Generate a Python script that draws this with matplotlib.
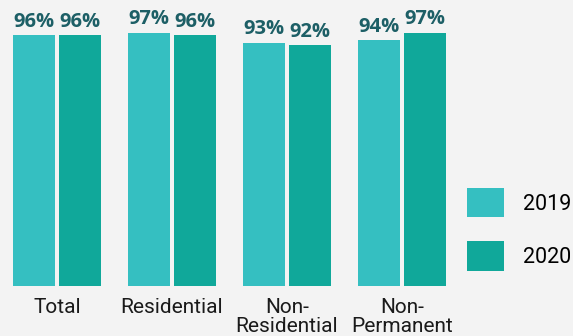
import matplotlib
matplotlib.use("Agg")
import matplotlib.pyplot as plt
import numpy as np

categories = ["Total", "Residential", "Non-\nResidential", "Non-\nPermanent"]
years = ["2019", "2020"]
values_2019 = [96, 97, 93, 94]
values_2020 = [96, 96, 92, 97]

colors = ["#35bfc1", "#10a89a"]
base = -3.2

fig = plt.figure(figsize=(5.73, 3.36), dpi=100, facecolor="#f3f3f3")
ax = fig.add_axes([0, 50 / 336, 460 / 573, 286 / 336])
ax.set_facecolor("#f3f3f3")

x = np.arange(len(categories))
w = 42 / 115
off = 23 / 115
for i, (vals, lab) in enumerate(zip([values_2019, values_2020], years)):
    heights = [v - base for v in vals]
    bars = ax.bar(x + (i - 0.5) * 2 * off, heights, w, bottom=base,
                  color=colors[i], label=lab)
    ax.bar_label(bars, labels=[f"{v}%" for v in vals], padding=2.5,
                 fontsize=14.5, fontweight="bold", family="Open Sans",
                 color="#1d5f66")

ax.set_xlim(-57 / 115, (460 - 57) / 115)
ax.set_ylim(base, base + 286 / 2.529)
ax.set_xticks(x)
ax.set_xticklabels(categories, family="Roboto", fontsize=15, color="#1a1a1a",
                   linespacing=1.02)
ax.tick_params(axis="x", length=0, pad=8.5)
ax.set_yticks([])
for s in ax.spines.values():
    s.set_visible(False)

fig.legend(loc="upper left", bbox_to_anchor=(467 / 573, 1 - 188 / 336),
           frameon=False, prop={"family": "Roboto", "size": 15.5},
           handlelength=1.72, handleheight=1.72, labelspacing=1.12,
           handletextpad=0.88, borderpad=0, borderaxespad=0)

fig.savefig("out.png", dpi=100, facecolor=fig.get_facecolor())
